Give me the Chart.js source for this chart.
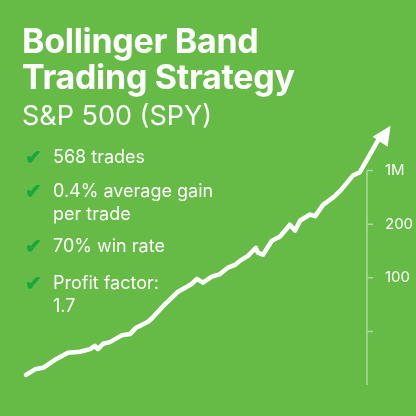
<!DOCTYPE html>
<html><head><meta charset="utf-8">
<script src="https://cdn.jsdelivr.net/npm/chart.js@4"></script>
<style>
html,body{margin:0;padding:0;background:#66bb46;width:416px;height:416px;overflow:hidden;font-family:Inter,"Noto Sans",sans-serif;color:#fff}
#wrap{position:absolute;left:0;top:0;width:416px;height:416px}
canvas{position:absolute;left:0;top:0}
.t{position:absolute;left:22px;white-space:nowrap}
.h1{font-size:34px;font-weight:700;letter-spacing:-0.3px}
.h2{font-size:27px;font-weight:400}
.b{font-size:18px;line-height:23px;left:53px}
.ck{position:absolute;left:25px;color:#17a93f;font-size:20px;font-weight:700}
</style></head><body>
<div id="wrap"><canvas id="c" width="416" height="416"></canvas>
<div class="t h1" style="top:20px">Bollinger Band</div>
<div class="t h1" style="top:56px">Trading Strategy</div>
<div class="t h2" style="top:99px">S&amp;P 500 (SPY)</div>
<div class="ck" style="top:145px">✔</div><div class="t b" style="top:145px">568 trades</div>
<div class="ck" style="top:179px">✔</div><div class="t b" style="top:179px">0.4% average gain<br>per trade</div>
<div class="ck" style="top:234px">✔</div><div class="t b" style="top:234px">70% win rate</div>
<div class="ck" style="top:271px">✔</div><div class="t b" style="top:271px">Profit factor:<br>1.7</div>
</div>
<script>
const periods=[0,2.9,5.0,8.5,12.3,15.8,18.8,20.2,21.1,22.6,24.6,28.2,30.5,32.3,35.8,37.0,40.8,44.6,48.7,50.1,51.9,54.5,56.9,59.2,61.3,62.8,65.1,67.4,68.0,69.5,72.1,74.5,77.4,78.9,80.4,83.3,84.8,87.1,90.3,92.4,95.9,97.9,103.2,105.3];
const equity=[0.19,0.30,0.32,0.47,0.60,0.62,0.67,0.73,0.67,0.77,0.80,0.93,0.95,1.07,1.18,1.25,1.51,1.74,1.89,1.98,1.91,2.02,2.07,2.19,2.24,2.32,2.41,2.56,2.47,2.43,2.69,2.77,2.99,2.88,3.07,3.18,3.15,3.36,3.51,3.64,3.91,3.97,4.56,4.68];
const tickValues=[1,2,3,4];
const tickLabels=["","100","200","1M"];
const axisPlugin={id:'axisLine',afterDraw(ch){const y=ch.scales.y,xs=ch.scales.x,x=ch.chartArea.right,c=ch.ctx;c.save();c.strokeStyle='rgba(255,255,255,0.45)';c.lineWidth=1.5;c.beginPath();c.moveTo(x,y.getPixelForValue(0));c.lineTo(x,y.getPixelForValue(4));tickValues.forEach(v=>{const p=y.getPixelForValue(v);c.moveTo(x,p);c.lineTo(x+6,p);});c.stroke();
const n=periods.length,px=xs.getPixelForValue(periods[n-1]),py=y.getPixelForValue(equity[n-1]),qx=xs.getPixelForValue(periods[n-3]),qy=y.getPixelForValue(equity[n-3]);
const a=Math.atan2(py-qy,px-qx);c.translate(px,py);c.rotate(a);c.fillStyle='#fff';c.beginPath();c.moveTo(10,0);c.lineTo(-9,-9);c.lineTo(-9,9);c.closePath();c.fill();c.restore();}};
new Chart(document.getElementById('c'),{type:'line',
data:{datasets:[{data:periods.map((p,i)=>({x:p,y:equity[i]})),borderColor:'#fff',borderWidth:4.5,tension:0,clip:false,pointRadius:0,borderCapStyle:'round',borderJoinStyle:'round'}]},
options:{responsive:false,animation:false,events:[],
layout:{padding:{left:26,top:117,bottom:31,right:0}},
plugins:{legend:{display:false},tooltip:{enabled:false}},
scales:{x:{type:'linear',display:false,min:0,max:100},
y:{position:'right',min:0,max:5,grid:{display:false},border:{display:false},
afterBuildTicks:s=>{s.ticks=tickValues.map(v=>({value:v}));},
afterFit:s=>{s.width=49;},
ticks:{color:'#fff',padding:10,font:{family:'Inter',size:15},callback:(v)=>tickLabels[tickValues.indexOf(v)]}}}},
plugins:[axisPlugin]});
</script></body></html>
